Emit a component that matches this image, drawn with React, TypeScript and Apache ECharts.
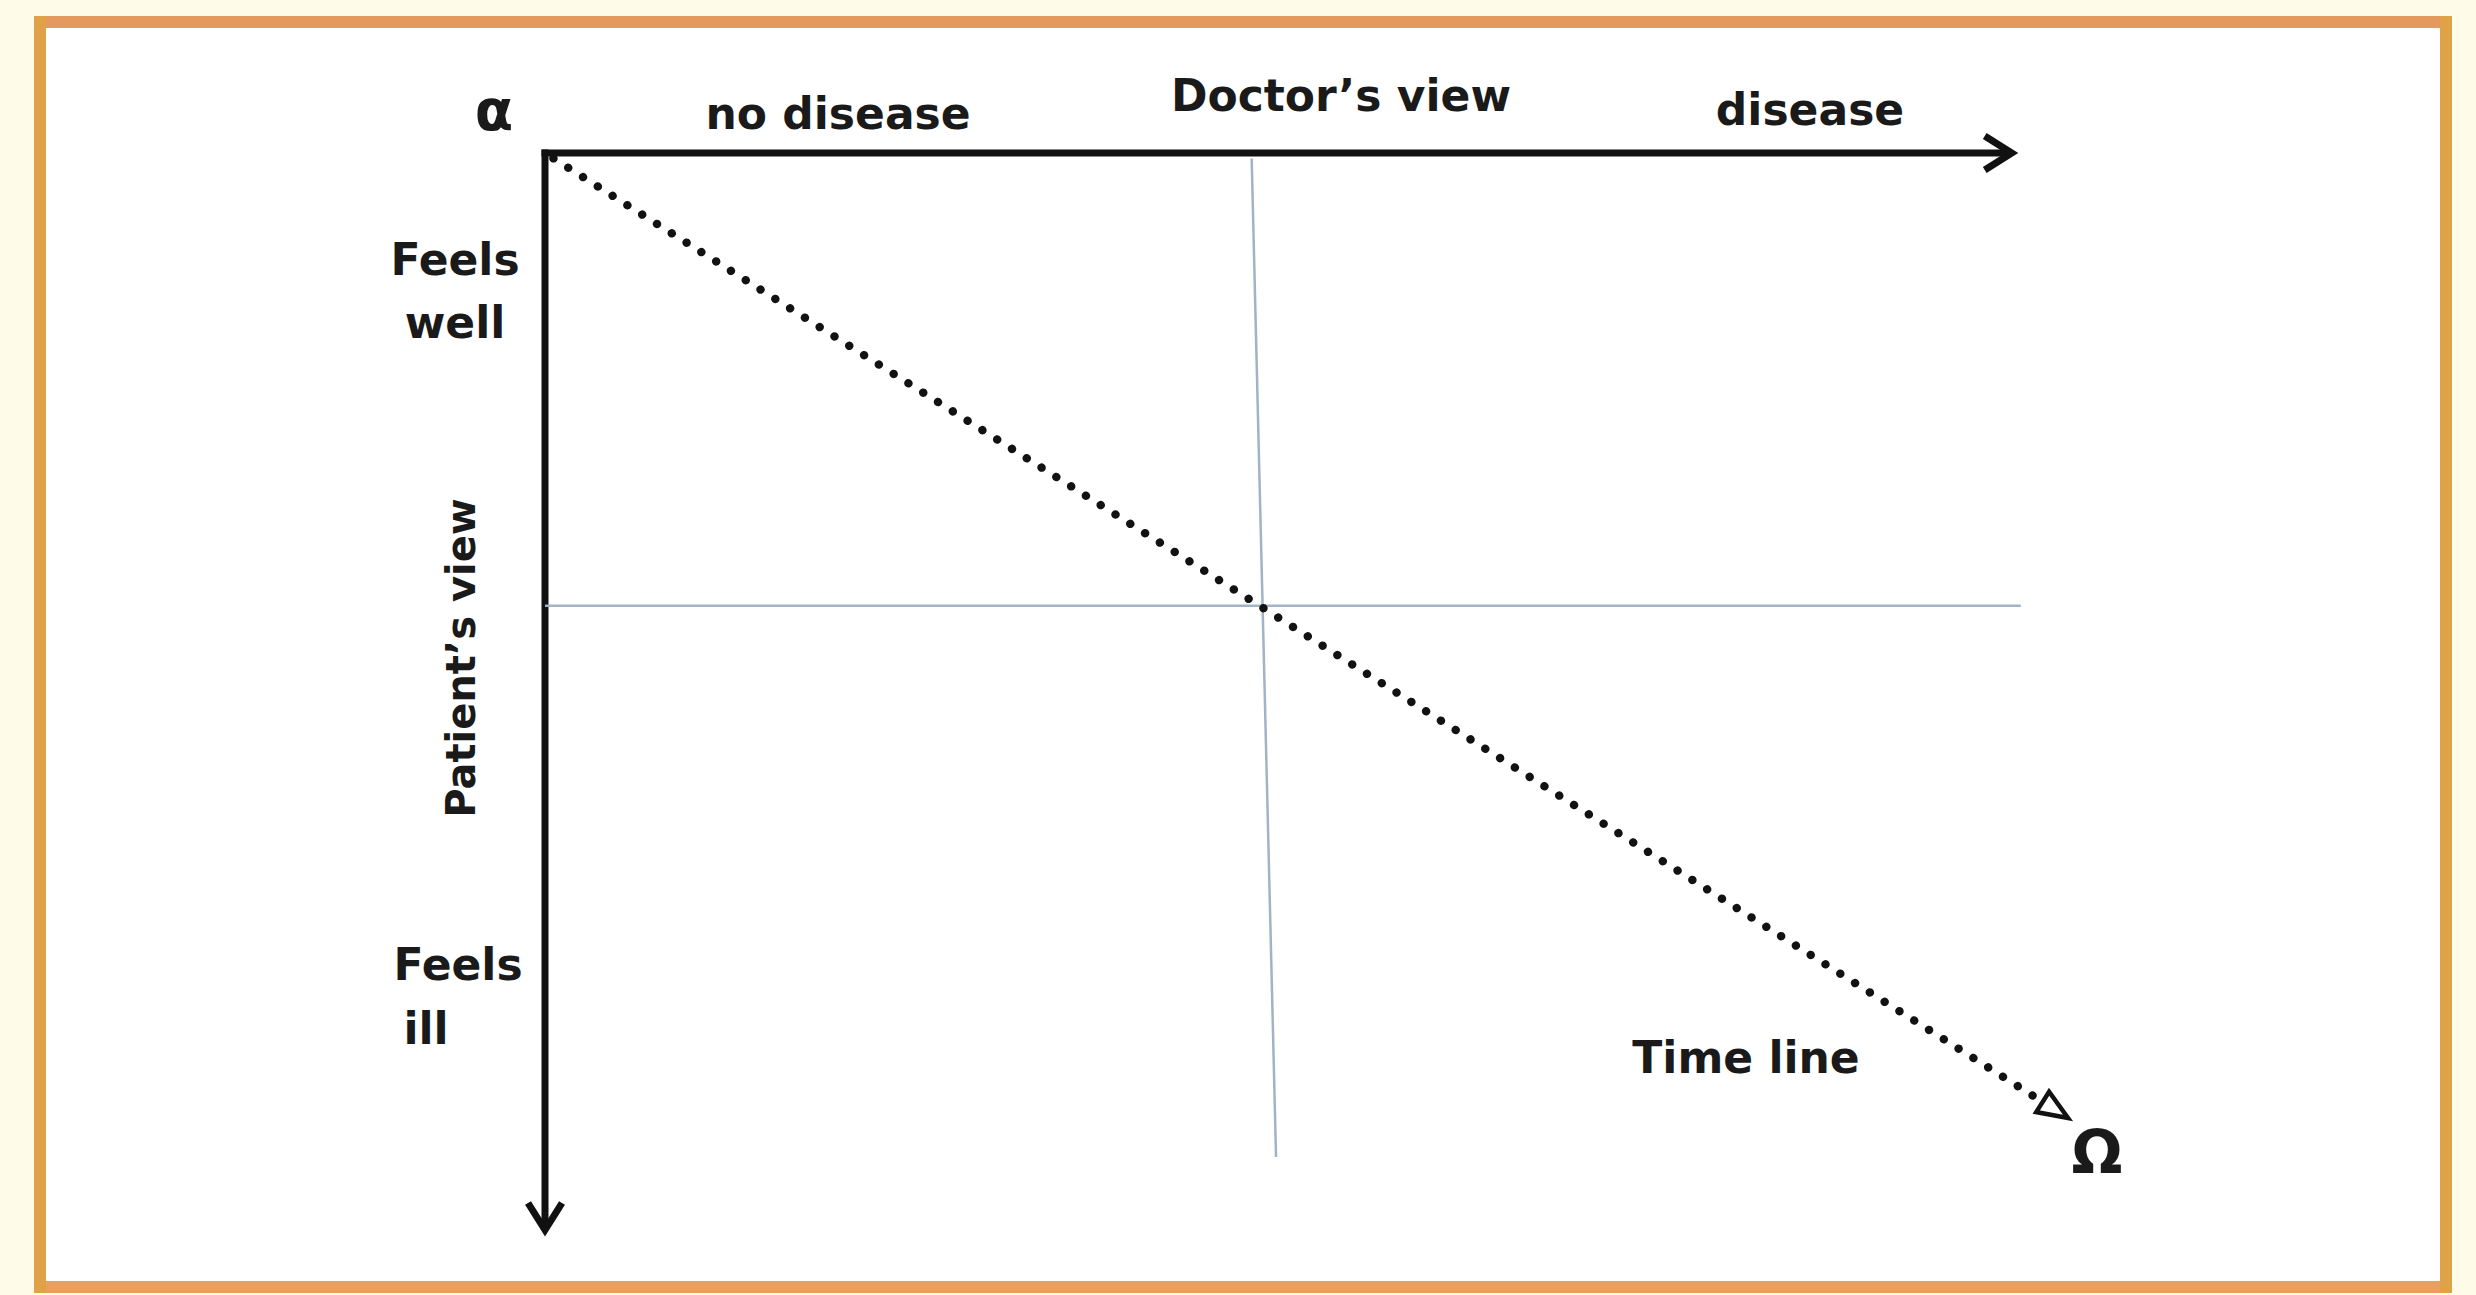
import React, { useEffect, useRef } from "react";
import * as echarts from "echarts";

const WIDTH = 2476;
const HEIGHT = 1295;

// Coordinates in a 0..100 data space (x: doctor's view, y: patient's view, inverted)
const doctorAxis = [0, 0, 96.7, 0];
const patientAxis = [0, 0, 0, 100];
const doctorDivider = [46.4, 0.5, 48.0, 92.7];
const patientDivider = [0, 41.8, 96.9, 41.8];
const timeLine = [0, 0, 100, 89.1];

// kind: 0 = axis with arrow, 1 = thin divider, 2 = dotted time line
const segmentKinds = [0, 0, 1, 1, 2];
const segments = [doctorAxis, patientAxis, doctorDivider, patientDivider, timeLine];

const topLabels = ["no disease", "Doctor\u2019s view", "disease"];
const sideLabels = ["Feels", "well", "Patient\u2019s view", "Feels", "ill"];
const timeLabel = "Time line";
const startSymbol = "\u03b1";
const endSymbol = "\u03a9";

const FONT = "'DejaVu Sans', Verdana, sans-serif";
const INK = "#1a1a1a";

export default function App() {
  const ref = useRef<HTMLDivElement>(null);

  useEffect(() => {
    document.body.style.margin = "0";
    if (!ref.current) return;
    const chart = echarts.init(ref.current, undefined, { renderer: "svg" });

    const txt = (text: string, x: number, y: number, size: number, extra: any = {}) => ({
      type: "text",
      x,
      y,
      z: 20,
      ...extra,
      style: {
        text,
        fontFamily: FONT,
        fontWeight: "bold",
        fontSize: size,
        fill: INK,
        align: "center",
        verticalAlign: "middle",
      },
    });

    const data = segments.map((s, i) => [...s, segmentKinds[i]]);

    chart.setOption({
      animation: false,
      backgroundColor: "#fffbe9",
      grid: { left: 545, top: 153, width: 1523, height: 1083 },
      xAxis: { type: "value", min: 0, max: 100, show: false },
      yAxis: { type: "value", min: 0, max: 100, inverse: true, show: false },
      graphic: [
        { type: "rect", z: 0, shape: { x: 40, y: 22, width: 2407, height: 1265 }, style: { fill: "#ffffff" } },
        { type: "rect", z: 1, shape: { x: 34, y: 16, width: 2418, height: 12 }, style: { fill: "#e49a5e" } },
        { type: "rect", z: 1, shape: { x: 34, y: 1281, width: 2418, height: 12 }, style: { fill: "#e7a062" } },
        { type: "rect", z: 1, shape: { x: 34, y: 16, width: 12, height: 1277 }, style: { fill: "#dfa246" } },
        { type: "rect", z: 1, shape: { x: 2440, y: 16, width: 12, height: 1277 }, style: { fill: "#dfa246" } },
        txt(startSymbol, 494, 110, 56),
        txt(topLabels[0], 838, 113, 44),
        txt(topLabels[1], 1341, 95, 44),
        txt(topLabels[2], 1810, 109, 44),
        txt(sideLabels[0], 455, 259, 44),
        txt(sideLabels[1], 455, 322, 44),
        txt(sideLabels[2], 461, 658, 40, { rotation: Math.PI / 2 }),
        txt(sideLabels[3], 458, 964, 44),
        txt(sideLabels[4], 426, 1028, 44),
        txt(timeLabel, 1746, 1057, 44),
        txt(endSymbol, 2097, 1152, 60),
      ],
      series: [
        {
          type: "custom",
          z: 5,
          clip: false,
          encode: { x: [0, 2], y: [1, 3] },
          data,
          renderItem: (_params: any, api: any) => {
            const p1 = api.coord([api.value(0), api.value(1)]);
            const p2 = api.coord([api.value(2), api.value(3)]);
            const kind = api.value(4);
            const dx = p2[0] - p1[0];
            const dy = p2[1] - p1[1];
            const len = Math.hypot(dx, dy);
            const ux = dx / len;
            const uy = dy / len;
            const nx = -uy;
            const ny = ux;
            const children: any[] = [];
            if (kind === 0) {
              const tipX = p2[0] - ux * 6;
              const tipY = p2[1] - uy * 6;
              children.push({
                type: "line",
                shape: { x1: p1[0] - ux * 3.5, y1: p1[1] - uy * 3.5, x2: tipX - ux * 2, y2: tipY - uy * 2 },
                style: { stroke: "#111111", lineWidth: 7, lineCap: "butt" },
              });
              const L = 27;
              const Wd = 17;
              children.push({
                type: "polyline",
                shape: {
                  points: [
                    [tipX - ux * L + nx * Wd, tipY - uy * L + ny * Wd],
                    [tipX, tipY],
                    [tipX - ux * L - nx * Wd, tipY - uy * L - ny * Wd],
                  ],
                },
                style: { stroke: "#111111", lineWidth: 7, fill: null, lineJoin: "miter" },
              });
            } else if (kind === 1) {
              children.push({
                type: "line",
                shape: { x1: p1[0], y1: p1[1], x2: p2[0], y2: p2[1] },
                style: { stroke: "#a3b3c6", lineWidth: 2.5 },
              });
            } else {
              const L = 30;
              const Wd = 12;
              children.push({
                type: "line",
                shape: { x1: p1[0] + ux * 10, y1: p1[1] + uy * 10, x2: p2[0] - ux * (L + 2), y2: p2[1] - uy * (L + 2) },
                style: { stroke: "#121212", lineWidth: 8.5, lineDash: [0.01, 17.5], lineCap: "round" },
              });
              children.push({
                type: "polygon",
                shape: {
                  points: [
                    [p2[0], p2[1]],
                    [p2[0] - ux * L + nx * Wd, p2[1] - uy * L + ny * Wd],
                    [p2[0] - ux * L - nx * Wd, p2[1] - uy * L - ny * Wd],
                  ],
                },
                style: { stroke: "#121212", lineWidth: 4.5, fill: "#ffffff", lineJoin: "miter" },
              });
            }
            return { type: "group", children };
          },
        },
      ],
    });

    return () => chart.dispose();
  }, []);

  return <div ref={ref} style={{ width: WIDTH, height: HEIGHT }} />;
}
